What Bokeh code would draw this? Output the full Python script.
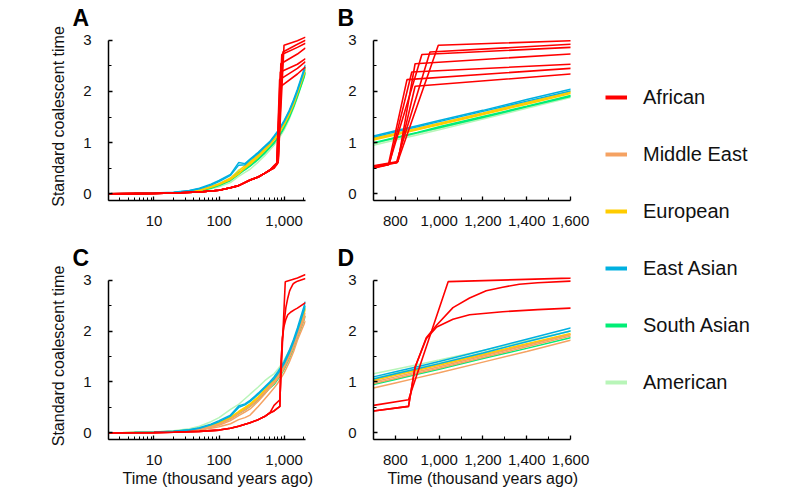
from bokeh.plotting import figure
from bokeh.models import Range1d, FixedTicker, NumeralTickFormatter, Legend, LegendItem, Title
from bokeh.layouts import row, column
from bokeh.embed import file_html
from bokeh.resources import INLINE

FONT = "Liberation Sans"

# ---------------- data ----------------
populations = ["African", "Middle East", "European", "East Asian", "South Asian", "American"]
pop_colors = ["#FF0000", "#F5A262", "#FFCC00", "#00B0E0", "#00EE76", "#B8F5B8"]

time_kya = [2, 5, 10, 20, 35, 50, 75, 100, 150, 200, 250, 300, 400, 500,
            600, 700, 800, 900, 1000, 1200, 1400, 1600, 2130]

# Row 1 (panels A, B) non-African lineages, values on time_kya
row1_american = [
    [0.0, 0.004, 0.008, 0.016, 0.035, 0.055, 0.10, 0.14, 0.22, 0.34, 0.42, 0.48, 0.62, 0.74, 0.85, 0.95, 1.05, 1.15, 1.25, 1.46, 1.67, 1.88, 2.35],
    [0.0, 0.005, 0.010, 0.020, 0.040, 0.060, 0.12, 0.17, 0.28, 0.47, 0.50, 0.56, 0.68, 0.79, 0.89, 0.98, 1.08, 1.18, 1.28, 1.49, 1.70, 1.91, 2.38],
]
row1_south_asian = [
    [0.0, 0.005, 0.010, 0.020, 0.040, 0.065, 0.12, 0.17, 0.27, 0.42, 0.48, 0.55, 0.69, 0.81, 0.91, 1.00, 1.10, 1.20, 1.31, 1.51, 1.71, 1.92, 2.38],
    [0.0, 0.005, 0.010, 0.020, 0.040, 0.060, 0.11, 0.16, 0.26, 0.38, 0.47, 0.54, 0.67, 0.79, 0.90, 0.99, 1.09, 1.19, 1.29, 1.49, 1.70, 1.90, 2.36],
]
row1_european = [
    [0.0, 0.005, 0.010, 0.020, 0.045, 0.070, 0.14, 0.19, 0.29, 0.39, 0.52, 0.61, 0.74, 0.86, 0.97, 1.07, 1.16, 1.26, 1.36, 1.56, 1.77, 1.98, 2.45],
    [0.0, 0.005, 0.010, 0.020, 0.040, 0.065, 0.13, 0.18, 0.28, 0.40, 0.50, 0.58, 0.72, 0.84, 0.95, 1.05, 1.15, 1.25, 1.35, 1.55, 1.75, 1.96, 2.42],
    [0.0, 0.006, 0.011, 0.022, 0.045, 0.075, 0.145, 0.20, 0.31, 0.45, 0.55, 0.63, 0.76, 0.88, 0.99, 1.09, 1.18, 1.28, 1.38, 1.58, 1.79, 2.00, 2.46],
]
row1_east_asian = [
    [0.0, 0.008, 0.015, 0.030, 0.065, 0.11, 0.19, 0.26, 0.38, 0.61, 0.59, 0.68, 0.81, 0.93, 1.02, 1.13, 1.23, 1.33, 1.43, 1.63, 1.84, 2.04, 2.52],
    [0.0, 0.007, 0.013, 0.028, 0.060, 0.10, 0.17, 0.24, 0.36, 0.56, 0.57, 0.66, 0.79, 0.91, 1.00, 1.11, 1.21, 1.31, 1.41, 1.61, 1.81, 2.01, 2.48],
]

# African lineages: shared early part, then individual late parts
afr_early_t = [2, 5, 10, 20, 50, 100, 150, 200, 300, 400, 500, 600]
row1_afr_early = [0.0, 0.004, 0.008, 0.015, 0.035, 0.07, 0.12, 0.16, 0.27, 0.33, 0.40, 0.46]
row1_afr_late_t = [
    [700, 810, 996, 1600, 2130],
    [700, 805, 958, 1600, 2130],
    [700, 770, 921, 1600, 2130],
    [700, 812, 890, 1600, 2130],
    [700, 772, 875, 1600, 2130],
    [700, 768, 853, 1600, 2130],
    [700, 808, 890, 1600, 2130],
]
row1_afr_late_y = [
    [0.53, 0.62, 2.90, 2.99, 3.06],
    [0.54, 0.61, 2.77, 2.92, 3.00],
    [0.52, 0.57, 2.72, 2.86, 2.94],
    [0.55, 0.63, 2.54, 2.73, 2.85],
    [0.51, 0.58, 2.38, 2.53, 2.64],
    [0.50, 0.57, 2.23, 2.45, 2.58],
    [0.53, 0.61, 2.10, 2.34, 2.48],
]

# Row 2 (panels C, D)
row2_american = [
    [0.0, 0.008, 0.018, 0.040, 0.080, 0.13, 0.22, 0.30, 0.46, 0.56, 0.67, 0.76, 0.90, 1.02, 1.10, 1.16, 1.25, 1.34, 1.43, 1.62, 1.81, 2.00, 2.48],
    [0.0, 0.006, 0.012, 0.025, 0.050, 0.08, 0.14, 0.20, 0.32, 0.50, 0.56, 0.62, 0.75, 0.87, 0.98, 1.07, 1.17, 1.27, 1.37, 1.58, 1.79, 2.00, 2.50],
]
row2_south_asian = [
    [0.0, 0.008, 0.016, 0.030, 0.055, 0.08, 0.13, 0.18, 0.28, 0.38, 0.45, 0.52, 0.65, 0.77, 0.88, 0.95, 1.05, 1.15, 1.25, 1.46, 1.66, 1.87, 2.30],
]
row2_european = [
    [0.0, 0.006, 0.012, 0.025, 0.050, 0.08, 0.14, 0.20, 0.31, 0.42, 0.50, 0.57, 0.71, 0.84, 0.96, 1.05, 1.15, 1.25, 1.35, 1.55, 1.75, 1.95, 2.45],
    [0.0, 0.006, 0.011, 0.023, 0.045, 0.075, 0.13, 0.19, 0.30, 0.40, 0.48, 0.55, 0.69, 0.82, 0.94, 1.03, 1.13, 1.23, 1.33, 1.53, 1.73, 1.93, 2.43],
]
row2_middle_east = [
    [0.0, 0.004, 0.008, 0.016, 0.030, 0.05, 0.09, 0.12, 0.18, 0.26, 0.30, 0.35, 0.52, 0.66, 0.78, 0.88, 0.98, 1.08, 1.18, 1.39, 1.60, 1.82, 2.20],
    [0.0, 0.005, 0.010, 0.020, 0.040, 0.06, 0.11, 0.15, 0.24, 0.34, 0.41, 0.47, 0.62, 0.76, 0.88, 0.97, 1.07, 1.17, 1.27, 1.48, 1.69, 1.90, 2.30],
    [0.0, 0.005, 0.011, 0.022, 0.045, 0.07, 0.12, 0.17, 0.27, 0.38, 0.45, 0.52, 0.66, 0.80, 0.92, 1.00, 1.10, 1.20, 1.30, 1.51, 1.72, 1.93, 2.36],
]
row2_east_asian = [
    [0.0, 0.007, 0.014, 0.030, 0.060, 0.10, 0.17, 0.24, 0.35, 0.53, 0.57, 0.64, 0.78, 0.90, 1.00, 1.10, 1.20, 1.30, 1.40, 1.62, 1.84, 2.06, 2.58],
    [0.0, 0.007, 0.013, 0.028, 0.055, 0.09, 0.16, 0.22, 0.33, 0.50, 0.55, 0.62, 0.76, 0.88, 0.98, 1.06, 1.16, 1.26, 1.36, 1.57, 1.79, 2.00, 2.50],
]
row2_afr_early = [0.0, 0.003, 0.006, 0.012, 0.030, 0.055, 0.09, 0.13, 0.20, 0.26, 0.32, 0.39]
row2_afr_late_t = [
    [700, 860, 1041, 1600, 2130],
    [700, 860, 890, 941, 989, 1063, 1139, 1215, 1290, 1366, 1450, 1600, 2130],
    [700, 860, 890, 941, 989, 1063, 1139, 1290, 1450, 1600, 2130],
]
row2_afr_late_y = [
    [0.54, 0.65, 2.97, 3.04, 3.11],
    [0.43, 0.52, 1.29, 1.87, 2.12, 2.46, 2.65, 2.79, 2.86, 2.92, 2.95, 2.98, 3.03],
    [0.43, 0.52, 1.29, 1.85, 2.08, 2.23, 2.32, 2.38, 2.42, 2.45, 2.56],
]

y_ticks = [0, 1, 2, 3]
y_minor_ticks = [0.5, 1.5, 2.5]
log_ticks = [10, 100, 1000]
log_minor_ticks = [2, 3, 4, 5, 6, 7, 8, 9, 20, 30, 40, 50, 60, 70, 80, 90,
                   200, 300, 400, 500, 600, 700, 800, 900, 2000]
lin_ticks = [800, 1000, 1200, 1400, 1600]
lin_minor_ticks = [700, 900, 1100, 1300, 1500]

color_of = dict(zip(populations, pop_colors))

row1 = {
    "nonafr": [("American", row1_american), ("South Asian", row1_south_asian),
               ("European", row1_european), ("East Asian", row1_east_asian)],
    "early": row1_afr_early, "late_t": row1_afr_late_t, "late_y": row1_afr_late_y,
}
row2 = {
    "nonafr": [("American", row2_american), ("South Asian", row2_south_asian),
               ("European", row2_european), ("Middle East", row2_middle_east),
               ("East Asian", row2_east_asian)],
    "early": row2_afr_early, "late_t": row2_afr_late_t, "late_y": row2_afr_late_y,
}

Y0, Y1 = -0.13, 3.15


def make_panel(data, letter, log, width, height, mbl, mbr, mbt, mbb, ylabel, xlabel):
    if log:
        p = figure(width=width, height=height, x_axis_type="log",
                   x_range=Range1d(2, 2130), y_range=Range1d(Y0, Y1),
                   toolbar_location=None, output_backend="svg")
    else:
        p = figure(width=width, height=height,
                   x_range=Range1d(700, 1600), y_range=Range1d(Y0, Y1),
                   toolbar_location=None, output_backend="svg")
    p.min_border_left = mbl
    p.min_border_right = mbr
    p.min_border_top = mbt
    p.min_border_bottom = mbb
    p.outline_line_color = None
    p.grid.visible = False
    p.background_fill_color = "white"
    p.border_fill_color = "white"

    for name, lines in data["nonafr"]:
        for ys in lines:
            p.line(time_kya, ys, line_color=color_of[name], line_width=1.5)
    for lt, ly in zip(data["late_t"], data["late_y"]):
        p.line(afr_early_t + lt, data["early"] + ly, line_color=color_of["African"], line_width=1.6)

    for ax in (p.xaxis[0], p.yaxis[0]):
        ax.axis_line_color = "black"
        ax.axis_line_width = 1.5
        ax.major_tick_line_color = "black"
        ax.minor_tick_line_color = "black"
        ax.major_tick_line_width = 1.3
        ax.minor_tick_line_width = 1.0
        ax.major_tick_out = 0
        ax.major_tick_in = 4
        ax.minor_tick_out = 0
        ax.minor_tick_in = 3
        ax.major_label_text_font = FONT
        ax.major_label_text_font_size = "15px"
        ax.major_label_text_color = "#111111"

    p.yaxis.ticker = FixedTicker(ticks=y_ticks, minor_ticks=y_minor_ticks)
    p.yaxis.bounds = (Y0, 3)
    p.yaxis.major_label_standoff = 17
    if log:
        p.xaxis.ticker = FixedTicker(ticks=log_ticks, minor_ticks=log_minor_ticks)
    else:
        p.xaxis.ticker = FixedTicker(ticks=lin_ticks, minor_ticks=lin_minor_ticks)
    p.xaxis.formatter = NumeralTickFormatter(format="0,0")
    p.xaxis.major_label_standoff = 15

    if ylabel:
        p.yaxis.axis_label = ylabel
        p.yaxis.axis_label_text_font = FONT
        p.yaxis.axis_label_text_font_size = "16px"
        p.yaxis.axis_label_text_font_style = "normal"
        p.yaxis.axis_label_text_color = "#111111"
        p.yaxis.axis_label_standoff = 13

    p.title.text = letter
    p.title.align = "left"
    p.title.offset = -36
    p.title.standoff = 4
    p.title.text_font = FONT
    p.title.text_font_size = "23px"
    p.title.text_font_style = "bold"
    p.title.text_color = "black"

    if xlabel:
        p.add_layout(Title(text=xlabel, align="left", offset=14, standoff=0,
                           text_font=FONT, text_font_size="16px",
                           text_font_style="normal", text_color="#111111"), "below")
    return p


pA = make_panel(row1, "A", True, 320, 240, 108, 15, 32, 40, "Standard coalescent time", None)
pB = make_panel(row1, "B", False, 270, 240, 53, 20, 32, 40, None, None)
pC = make_panel(row2, "C", True, 320, 247, 108, 15, 31, 48, "Standard coalescent time",
                "Time (thousand years ago)")
pD = make_panel(row2, "D", False, 270, 247, 53, 20, 31, 48, None,
                "Time (thousand years ago)")

# legend panel: representative lineages drawn outside its visible range,
# used only so that the legend has glyphs to show
legend_lines = [
    (afr_early_t + row2_afr_late_t[0], row2_afr_early + row2_afr_late_y[0]),
    (time_kya, row2_middle_east[0]),
    (time_kya, row2_european[0]),
    (time_kya, row2_east_asian[0]),
    (time_kya, row2_south_asian[0]),
    (time_kya, row2_american[0]),
]
pL = figure(width=202, height=487, x_range=Range1d(-2, -1), y_range=Range1d(-2, -1),
            x_axis_location=None, y_axis_location=None,
            toolbar_location=None, output_backend="svg")
pL.min_border = 0
pL.outline_line_color = None
pL.grid.visible = False
items = []
for name, col, (lx, ly) in zip(populations, pop_colors, legend_lines):
    r = pL.line(lx, ly, line_color=col, line_width=4)
    items.append(LegendItem(label=name, renderers=[r]))
legend = Legend(items=items, location=(15, 93), orientation="vertical",
                glyph_width=22, glyph_height=24, label_height=24,
                label_standoff=16, spacing=33, padding=0, margin=0,
                border_line_color=None, background_fill_alpha=0,
                label_text_font=FONT, label_text_font_size="20px",
                label_text_color="#111111")
pL.add_layout(legend)

layout = row(column(pA, pC), column(pB, pD), pL)

open("out.html", "w").write(file_html(layout, INLINE))
